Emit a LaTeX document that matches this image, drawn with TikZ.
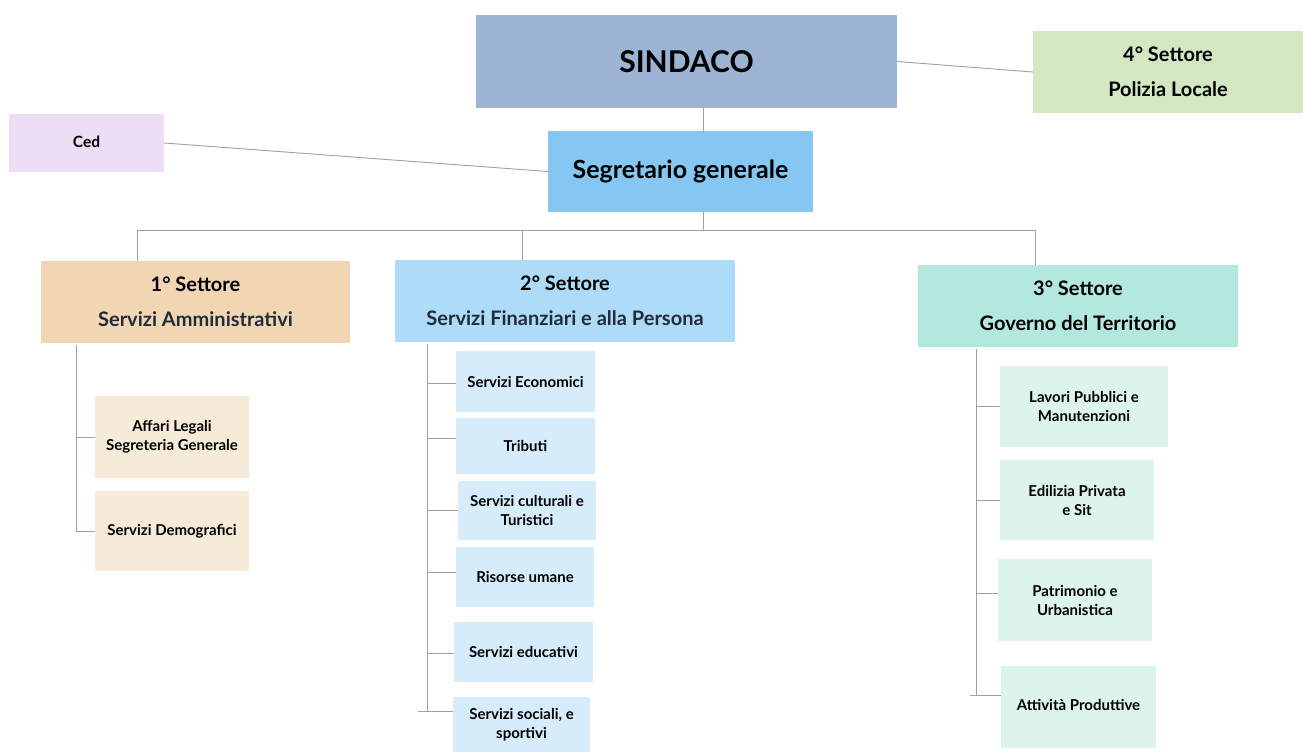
\documentclass[tikz,border=0pt]{standalone}
\usepackage{fontspec}
\setmainfont{Lato}
\definecolor{cSind}{HTML}{9DB3D4}
\definecolor{cSeg}{HTML}{85C7F2}
\definecolor{cPol}{HTML}{D4E7C3}
\definecolor{cCed}{HTML}{ECDEF5}
\definecolor{cS1}{HTML}{F2D6B3}
\definecolor{cS2}{HTML}{AEDBF7}
\definecolor{cS3}{HTML}{B3E8DE}
\definecolor{cA1}{HTML}{F6EAD9}
\definecolor{cA2}{HTML}{D6ECFA}
\definecolor{cA3}{HTML}{DCF3EE}
\definecolor{cLine}{HTML}{A0A0A0}
\definecolor{cNavy}{HTML}{222B3A}
\tikzset{
  box/.style={fill=#1, draw=none, inner sep=0pt, align=center, font=\bfseries},
  bighead/.style={font=\fontsize{20}{34.5}\selectfont\bfseries},
  small/.style={font=\fontsize{15}{19}\selectfont\bfseries},
  conn/.style={draw=cLine, line width=0.9pt}
}
\begin{document}
\begin{tikzpicture}[x=1pt,y=-1pt]
\useasboundingbox[fill=white] (0,0) rectangle (1303,753);
% top level
\node[box=cSind, minimum width=421pt, minimum height=93pt, font=\fontsize{30}{34}\selectfont\bfseries] (sind) at (686.5,61.5) {SINDACO};
\node[box=cPol, minimum width=270pt, minimum height=82pt, bighead] (pol) at (1168,72) {4° Settore\\Polizia Locale};
\node[box=cCed, minimum width=155pt, minimum height=58pt, font=\fontsize{15.5}{17}\selectfont\bfseries] (ced) at (86.5,143) {\raisebox{3pt}{Ced}};
\node[box=cSeg, minimum width=265pt, minimum height=81pt, font=\fontsize{25}{28}\selectfont\bfseries] (seg) at (680.5,171.5) {\raisebox{3pt}{Segretario generale}};
% sectors
\node[box=cS1, minimum width=309pt, minimum height=82pt, bighead] (s1) at (195.5,302) {\textcolor{black}{1° Settore}\\\textcolor{cNavy}{Servizi Amministrativi}};
\node[box=cS2, minimum width=340pt, minimum height=82pt, bighead] (s2) at (565,301) {\textcolor{black}{2° Settore}\\\textcolor{cNavy}{Servizi Finanziari e alla Persona}};
\node[box=cS3, minimum width=320pt, minimum height=82pt, bighead] (s3) at (1078,306) {3° Settore\\Governo del Territorio};
% 1st sector offices
\node[box=cA1, minimum width=154pt, minimum height=82pt, small] (aff) at (172,437) {Affari Legali\\Segreteria Generale};
\node[box=cA1, minimum width=154pt, minimum height=80pt, small] (demo) at (172,531) {Servizi Demografici};
% 2nd sector offices
\node[box=cA2, minimum width=139pt, minimum height=61pt, small] (econ) at (525.5,381.5) {Servizi Economici};
\node[box=cA2, minimum width=139pt, minimum height=56pt, small] (trib) at (525.5,446) {Tributi};
\node[box=cA2, minimum width=138pt, minimum height=59pt, small] (cult) at (527,510.5) {Servizi culturali e\\Turistici};
\node[box=cA2, minimum width=138pt, minimum height=60pt, small] (ris) at (525,577) {Risorse umane};
\node[box=cA2, minimum width=139pt, minimum height=60pt, small] (edu) at (523.5,652) {Servizi educativi};
\node[box=cA2, minimum width=137pt, minimum height=55pt, small] (soc) at (521.5,724.5) {Servizi sociali, e\\sportivi};
% 3rd sector offices
\node[box=cA3, minimum width=168pt, minimum height=81pt, small] (lav) at (1084,406.5) {Lavori Pubblici e\\Manutenzioni};
\node[box=cA3, minimum width=154pt, minimum height=80pt, small] (edil) at (1077,500) {Edilizia Privata\\e Sit};
\node[box=cA3, minimum width=154pt, minimum height=82pt, small] (patr) at (1075,600) {Patrimonio e\\Urbanistica};
\node[box=cA3, minimum width=155pt, minimum height=82pt, small] (att) at (1078.5,707) {\raisebox{4pt}{Attività Produttive}};
% coordinates for buses
\coordinate (bM) at (703,230);
\coordinate (bL) at (137,230);
\coordinate (bC) at (522,230);
\coordinate (bR) at (1035,230);
\coordinate (t1) at (76,345);
\coordinate (t2) at (427,344);
\coordinate (t3) at (976,349);
% connectors
\draw[conn] (sind.south -| bM) -- (seg.north -| bM);
\draw[conn] (sind.east) -- (pol.west);
\draw[conn] (ced.east) -- (seg.west);
\draw[conn] (seg.south -| bM) -- (bM);
\draw[conn] (s1.north -| bL) -- (bL) -- (bR) -- (s3.north -| bR);
\draw[conn] (bC) -- (s2.north -| bC);
% sector 1
\draw[conn] (t1) |- (demo.west);
\draw[conn] (t1 |- aff.west) -- (aff.west);
% sector 2
\coordinate (t2b) at (427,711);
\draw[conn] (t2) -- (t2b);
\draw[conn] (t2 |- 0,383) -- (econ.west |- 0,383);
\draw[conn] (t2 |- 0,438) -- (trib.west |- 0,438);
\draw[conn] (t2 |- 0,510) -- (cult.west |- 0,510);
\draw[conn] (t2 |- 0,572) -- (ris.west |- 0,572);
\draw[conn] (t2 |- 0,653) -- (edu.west |- 0,653);
\draw[conn] ([xshift=-9pt]t2b) -- (soc.west |- t2b);
% sector 3
\coordinate (t3b) at (976,695);
\draw[conn] (t3) -- (t3b);
\draw[conn] (t3 |- lav.west) -- (lav.west);
\draw[conn] (t3 |- edil.west) -- (edil.west);
\draw[conn] (t3 |- 0,593) -- (patr.west |- 0,593);
\draw[conn] ([xshift=-6pt]t3b) -- (att.west |- t3b);
\end{tikzpicture}
\end{document}
